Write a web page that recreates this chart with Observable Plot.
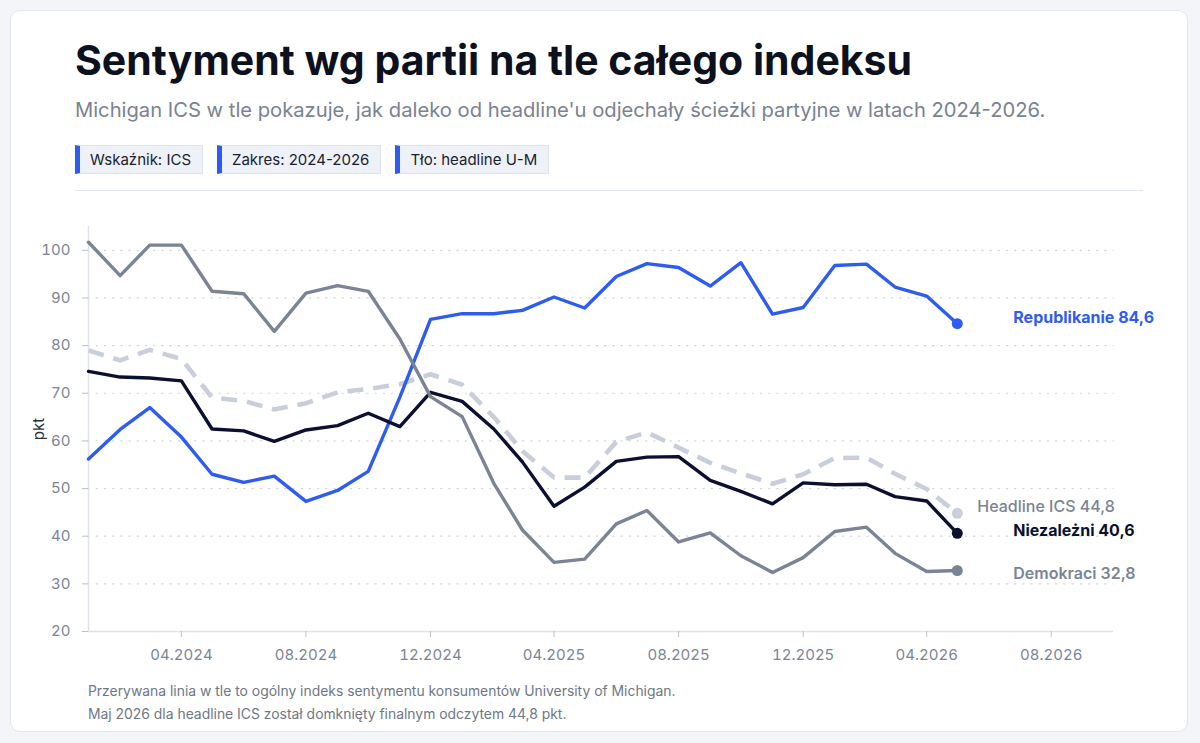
<!DOCTYPE html>
<html lang="pl">
<head>
<meta charset="utf-8">
<script src="https://cdn.jsdelivr.net/npm/d3@7"></script>
<script src="https://cdn.jsdelivr.net/npm/@observablehq/plot@0.6"></script>
<style>
  html, body { margin: 0; padding: 0; }
  body { width: 1200px; height: 743px; background: #f3f5f9; font-family: Inter, "Noto Sans", sans-serif; position: relative; overflow: hidden; }
  .card { position: absolute; left: 10px; top: 10px; width: 1176px; height: 720px; background: #fff; border: 1px solid #e2e7ef; border-radius: 10px; }
  .title { position: absolute; left: 75px; top: 35px; font-size: 41px; font-weight: 700; color: #0c111d; white-space: nowrap; margin: 0; line-height: 50px; }
  .subtitle { position: absolute; left: 75px; top: 96px; font-size: 20.2px; color: #7a8291; white-space: nowrap; line-height: 28px; }
  .chips { position: absolute; left: 75px; top: 145px; display: flex; gap: 14px; }
  .chip { height: 27px; line-height: 27px; background: #eef2f8; border: 1px solid #dde3ec; border-left: 5px solid #2f5cf0; padding: 0 11px 0 10px; font-size: 15px; color: #1a2030; }
  .sep { position: absolute; left: 75px; top: 190px; width: 1068px; height: 1px; background: #e2e7ef; }
  #chart { position: absolute; left: 0; top: 200px; }
  #chart g[aria-label="y-axis label"] text { fill: #2a3040; }
  .foot { position: absolute; left: 88px; font-size: 13.9px; color: #6f7787; white-space: nowrap; }
</style>
</head>
<body>
<div class="card"></div>
<h1 class="title">Sentyment wg partii na tle całego indeksu</h1>
<div class="subtitle">Michigan ICS w tle pokazuje, jak daleko od headline'u odjechały ścieżki partyjne w latach 2024-2026.</div>
<div class="chips">
  <div class="chip">Wskaźnik: ICS</div>
  <div class="chip">Zakres: 2024-2026</div>
  <div class="chip">Tło: headline U-M</div>
</div>
<div class="sep"></div>
<div id="chart"></div>
<div class="foot" style="top:683px">Przerywana linia w tle to ogólny indeks sentymentu konsumentów University of Michigan.</div>
<div class="foot" style="top:706px">Maj 2026 dla headline ICS został domknięty finalnym odczytem 44,8 pkt.</div>
<script>
// ---- data ----
const months = [
  "2024-01","2024-02","2024-03","2024-04","2024-05","2024-06","2024-07","2024-08","2024-09","2024-10","2024-11","2024-12",
  "2025-01","2025-02","2025-03","2025-04","2025-05","2025-06","2025-07","2025-08","2025-09","2025-10","2025-11","2025-12",
  "2026-01","2026-02","2026-03","2026-04","2026-05"
];
const headline = [79.0, 76.9, 79.1, 77.2, 69.1, 68.4, 66.6, 67.9, 70.2, 70.9, 71.9, 74.0,
                  71.8, 65.0, 57.9, 52.3, 52.3, 59.8, 61.8, 58.6, 55.4, 53.2, 51.0, 53.0,
                  56.4, 56.5, 53.1, 49.9, 44.8];
const republicans = [56.2, 62.4, 67.0, 60.8, 53.0, 51.3, 52.6, 47.3, 49.6, 53.6, 69.2, 85.5,
                     86.7, 86.7, 87.4, 90.2, 87.9, 94.5, 97.2, 96.4, 92.5, 97.4, 86.6, 88.0,
                     96.8, 97.1, 92.3, 90.4, 84.6];
const independents = [74.6, 73.4, 73.2, 72.6, 62.5, 62.1, 59.9, 62.3, 63.2, 65.8, 63.0, 70.2,
                      68.3, 62.5, 55.6, 46.3, 50.3, 55.7, 56.6, 56.7, 51.7, 49.4, 46.8, 51.2,
                      50.8, 50.9, 48.3, 47.4, 40.6];
const democrats = [101.7, 94.7, 101.1, 101.1, 91.4, 90.9, 83.0, 91.0, 92.6, 91.4, 81.4, 69.3,
                   65.1, 51.1, 41.3, 34.5, 35.2, 42.6, 45.4, 38.8, 40.7, 35.9, 32.4, 35.5,
                   41.0, 41.9, 36.4, 32.6, 32.8];
const seriesNames = ["Headline ICS", "Republikanie", "Niezależni", "Demokraci"];
const seriesValues = [headline, republicans, independents, democrats];
const xTicks = ["2024-04","2024-08","2024-12","2025-04","2025-08","2025-12","2026-04","2026-08"];
const yTicks = [20, 30, 40, 50, 60, 70, 80, 90, 100];
const xDomain = ["2024-01", "2026-10"];

// ---- styles (not data) ----
const style = {
  "Headline ICS": {color: "#c9cfda", width: 4.6, dash: "16 10", labelColor: "#7b8494", weight: 500, dx: 20, dy: -6},
  "Republikanie": {color: "#2f5cf0", width: 3.4, dash: null, labelColor: "#2f5cf0", weight: 700, dx: 56, dy: -6},
  "Niezależni":   {color: "#0b1030", width: 3.4, dash: null, labelColor: "#0b1030", weight: 700, dx: 56, dy: -2},
  "Demokraci":    {color: "#7b8494", width: 3.4, dash: null, labelColor: "#7b8494", weight: 600, dx: 56, dy: 3}
};

const parse = d3.utcParse("%Y-%m");
const rows = seriesNames.flatMap((name, s) =>
  months.map((m, i) => ({series: name, date: parse(m), value: seriesValues[s][i]})));
const last = seriesNames.map((name, s) => ({series: name, date: parse(months[months.length - 1]), value: seriesValues[s][months.length - 1]}));
const fmtNum = v => d3.format(".1f")(v).replace(".", ",");

const marks = [
  Plot.ruleY(yTicks.filter(t => t > 20), {stroke: "#cfd5de", strokeWidth: 1.2, strokeDasharray: "1.2 7", strokeLinecap: "round"}),
  Plot.ruleY([20], {stroke: "#dfe4ec", strokeWidth: 1.5}),
  Plot.ruleX([xDomain[0]].map(parse), {y1: 20, y2: 105, stroke: "#dfe4ec", strokeWidth: 1.5}),
  Plot.axisY({ticks: yTicks, tickSize: 6, tickPadding: 12, fontSize: 15, color: "#7b8494", stroke: "#b9c0cc", label: "pkt", labelAnchor: "center", labelArrow: "none", labelOffset: 55}),
  Plot.axisX({ticks: xTicks.map(parse), tickFormat: d3.utcFormat("%m.%Y"), tickSize: 6, tickPadding: 12, fontSize: 15, color: "#7b8494", stroke: "#b9c0cc", label: null})
];
for (const name of seriesNames) {
  const st = style[name];
  marks.push(Plot.line(rows.filter(d => d.series === name), {
    x: "date", y: "value", stroke: st.color, strokeWidth: st.width, strokeDasharray: st.dash,
    strokeLinejoin: "round", strokeLinecap: name === "Headline ICS" ? "butt" : "round"
  }));
}
for (const name of seriesNames) {
  const st = style[name];
  const d = last.filter(r => r.series === name);
  marks.push(Plot.dot(d, {x: "date", y: "value", r: 5.5, fill: st.color, stroke: null}));
  marks.push(Plot.text(d, {x: "date", y: "value", text: r => `${r.series} ${fmtNum(r.value)}`, dx: st.dx, dy: st.dy,
    textAnchor: "start", fill: st.labelColor, fontSize: 16, fontWeight: st.weight}));
}

const chart = Plot.plot({
  width: 1200,
  height: 480,
  marginLeft: 88,
  marginRight: 87,
  marginTop: 26,
  marginBottom: 49,
  style: {fontFamily: "Inter, 'Noto Sans', sans-serif", background: "transparent", overflow: "visible"},
  x: {type: "utc", domain: xDomain.map(parse)},
  y: {domain: [20, 105]},
  marks
});
document.getElementById("chart").appendChild(chart);
</script>
</body>
</html>
